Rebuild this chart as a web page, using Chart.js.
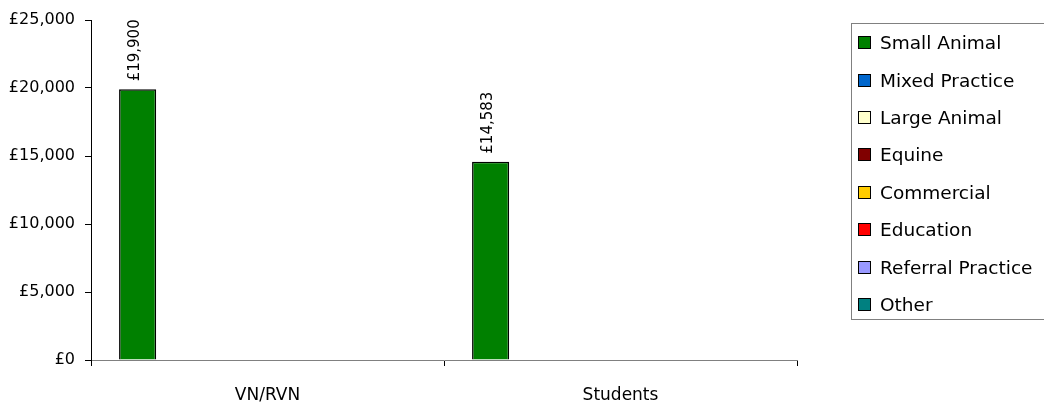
<html lang="en">
<head>
  <meta charset="UTF-8">
  <title>Salary by sector</title>
  <script src="https://cdn.jsdelivr.net/npm/chart.js"></script>
  <style>
    body { margin: 0; background: white; font-family: "DejaVu Sans"; }
    .wrap { position: relative; width: 1044px; height: 408px; }
    #legend { position: absolute; left: 851px; top: 23px; width: 200px; height: 297px; border: 1px solid #808080; box-sizing: border-box; }
    .item { height: 37.4px; display: flex; align-items: center; font-size: 18.5px; color: #000; }
    .box { width: 11px; height: 11px; border: 1px solid #000; margin-left: 6px; margin-right: 9px; }
  </style>
</head>
<body>
  <div class="wrap">
    <canvas id="chart" width="1044" height="408"></canvas>
    <div id="legend"></div>
  </div>

  <script>
    const categories = ['VN/RVN', 'Students'];
    const sectors = ['Small Animal', 'Mixed Practice', 'Large Animal', 'Equine', 'Commercial', 'Education', 'Referral Practice', 'Other'];
    const colors = ['#008000', '#0066CC', '#FFFFCC', '#800000', '#FFCC00', '#FF0000', '#9999FF', '#008080'];
    const smallAnimal = [19900, 14583];
    const mixedPractice = [null, null];
    const largeAnimal = [null, null];
    const equine = [null, null];
    const commercial = [null, null];
    const education = [null, null];
    const referral = [null, null];
    const other = [null, null];
    const seriesValues = [smallAnimal, mixedPractice, largeAnimal, equine, commercial, education, referral, other];
    const yTicks = [0, 5000, 10000, 15000, 20000, 25000];

    const money = v => '£' + Number(v).toLocaleString('en-GB');

    // value labels, written upwards above each bar
    const barLabels = {
      id: 'barLabels',
      afterDatasetsDraw(chart) {
        const ctx = chart.ctx;
        chart.data.datasets.forEach((ds, i) => {
          chart.getDatasetMeta(i).data.forEach((bar, j) => {
            const v = ds.data[j];
            if (v == null) return;
            ctx.save();
            ctx.translate(bar.x - 3, bar.y - 8);
            ctx.rotate(-Math.PI / 2);
            ctx.font = '15px "DejaVu Sans"';
            ctx.fillStyle = '#000';
            ctx.textAlign = 'left';
            ctx.textBaseline = 'middle';
            ctx.fillText(money(v), 0, 0);
            ctx.restore();
          });
        });
      }
    };

    new Chart(document.getElementById('chart'), {
      type: 'bar',
      data: {
        labels: categories,
        datasets: sectors.map((name, i) => ({
          label: name,
          data: seriesValues[i],
          backgroundColor: colors[i],
          borderColor: '#000',
          borderWidth: 1.5,
          categoryPercentage: 0.841,
          barPercentage: 1
        }))
      },
      options: {
        responsive: false,
        animation: false,
        layout: { padding: { top: 20, right: 247, bottom: 0, left: 0 } },
        plugins: { legend: { display: false }, tooltip: { enabled: false } },
        scales: {
          x: {
            grid: { drawOnChartArea: false, drawTicks: true, tickLength: 6, color: '#000', offset: true },
            border: { color: '#808080', width: 1 },
            ticks: { color: '#000', font: { family: 'DejaVu Sans', size: 17 }, padding: 19 },
            afterFit(scale) { scale.height = 48; }
          },
          y: {
            min: 0,
            max: 25000,
            afterBuildTicks(scale) { scale.ticks = yTicks.map(v => ({ value: v })); },
            grid: { drawOnChartArea: false, drawTicks: true, tickLength: 6, color: '#000' },
            border: { color: '#000', width: 1 },
            ticks: { color: '#000', font: { family: 'DejaVu Sans', size: 16 }, padding: 10, callback: v => money(v) },
            afterFit(scale) { scale.width = 91; }
          }
        }
      },
      plugins: [barLabels]
    });

    const legend = document.getElementById('legend');
    sectors.forEach((name, i) => {
      const row = document.createElement('div');
      row.className = 'item';
      const box = document.createElement('span');
      box.className = 'box';
      box.style.background = colors[i];
      row.appendChild(box);
      row.appendChild(document.createTextNode(name));
      legend.appendChild(row);
    });
  </script>
</body>
</html>
